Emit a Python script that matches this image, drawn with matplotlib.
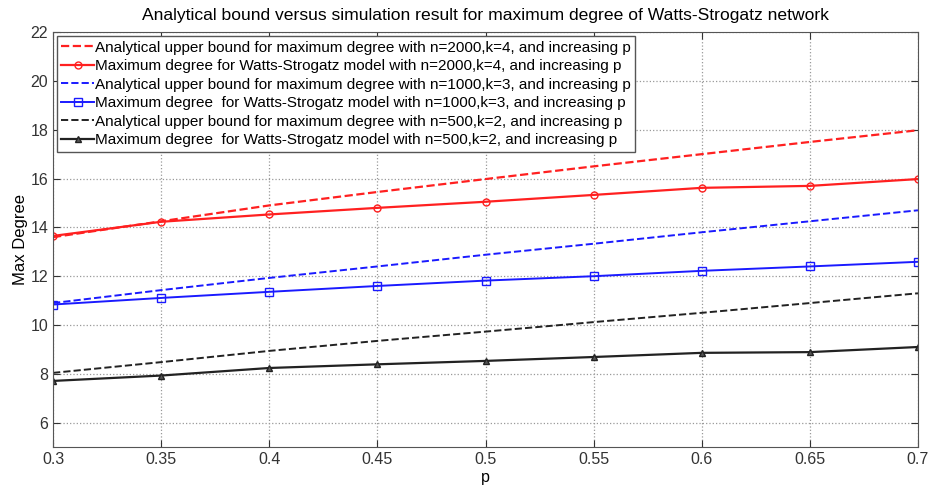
import matplotlib
matplotlib.use("Agg")
import matplotlib.pyplot as plt

plt.rcParams['font.family'] = ['Liberation Sans', 'DejaVu Sans']
plt.rcParams['font.size'] = 10.5

# データ
p = [0.3, 0.35, 0.4, 0.45, 0.5, 0.55, 0.6, 0.65, 0.7]
bound_2000 = [13.6, 14.25, 14.9, 15.45, 15.98, 16.5, 17.0, 17.5, 17.98]
sim_2000 = [13.65, 14.23, 14.53, 14.8, 15.05, 15.33, 15.62, 15.7, 15.98]
bound_1000 = [10.9, 11.43, 11.93, 12.4, 12.88, 13.33, 13.8, 14.25, 14.7]
sim_1000 = [10.84, 11.11, 11.36, 11.6, 11.82, 12.0, 12.22, 12.4, 12.59]
bound_500 = [8.04, 8.48, 8.94, 9.35, 9.73, 10.12, 10.5, 10.9, 11.3]
sim_500 = [7.71, 7.93, 8.24, 8.39, 8.53, 8.69, 8.86, 8.89, 9.1]

labels = [
    'Analytical upper bound for maximum degree with n=2000,k=4, and increasing p',
    'Maximum degree for Watts-Strogatz model with n=2000,k=4, and increasing p',
    'Analytical upper bound for maximum degree with n=1000,k=3, and increasing p',
    'Maximum degree  for Watts-Strogatz model with n=1000,k=3, and increasing p',
    'Analytical upper bound for maximum degree with n=500,k=2, and increasing p',
    'Maximum degree  for Watts-Strogatz model with n=500,k=2, and increasing p',
]

fig = plt.figure(figsize=(9.31, 4.94), dpi=100)
ax = fig.add_axes([0.057, 0.095, 0.929, 0.84])

ax.plot(p, bound_2000, '--', color='#ff2020', lw=1.6, label=labels[0])
ax.plot(p, sim_2000, '-o', color='#ff2020', lw=1.6, ms=5, mfc='none', label=labels[1])
ax.plot(p, bound_1000, '--', color='#1a1aff', lw=1.4, label=labels[2])
ax.plot(p, sim_1000, '-s', color='#1a1aff', lw=1.4, ms=6, mfc='none', label=labels[3])
ax.plot(p, bound_500, '--', color='#222222', lw=1.4, label=labels[4])
ax.plot(p, sim_500, '-^', color='#222222', lw=1.6, ms=5, mfc='#555555', label=labels[5])

ax.set_xlim(0.3, 0.7)
ax.set_ylim(5, 22)
ax.set_xticks(p)
ax.set_xticklabels(['0.3', '0.35', '0.4', '0.45', '0.5', '0.55', '0.6', '0.65', '0.7'])
ax.set_yticks([6, 8, 10, 12, 14, 16, 18, 20, 22])
ax.tick_params(direction='in', length=5, labelsize=11.5, colors='#333333',
               top=True, right=True)
ax.grid(True, linestyle=':', color='#999999', lw=0.9)
for s in ax.spines.values():
    s.set_color('#555555')

ax.set_xlabel('p', fontsize=11.5, labelpad=2)
ax.set_ylabel('Max Degree', fontsize=12, labelpad=2)
ax.set_title('Analytical bound versus simulation result for maximum degree of Watts-Strogatz network',
             fontsize=12.6, pad=9)

leg = ax.legend(loc='upper left', fontsize=11, handlelength=2.1, handletextpad=0.1,
                borderpad=0.3, labelspacing=0.3, fancybox=False, framealpha=1,
                borderaxespad=0.25)
leg.get_frame().set_edgecolor('#555555')

fig.savefig('out.png', dpi=100)
